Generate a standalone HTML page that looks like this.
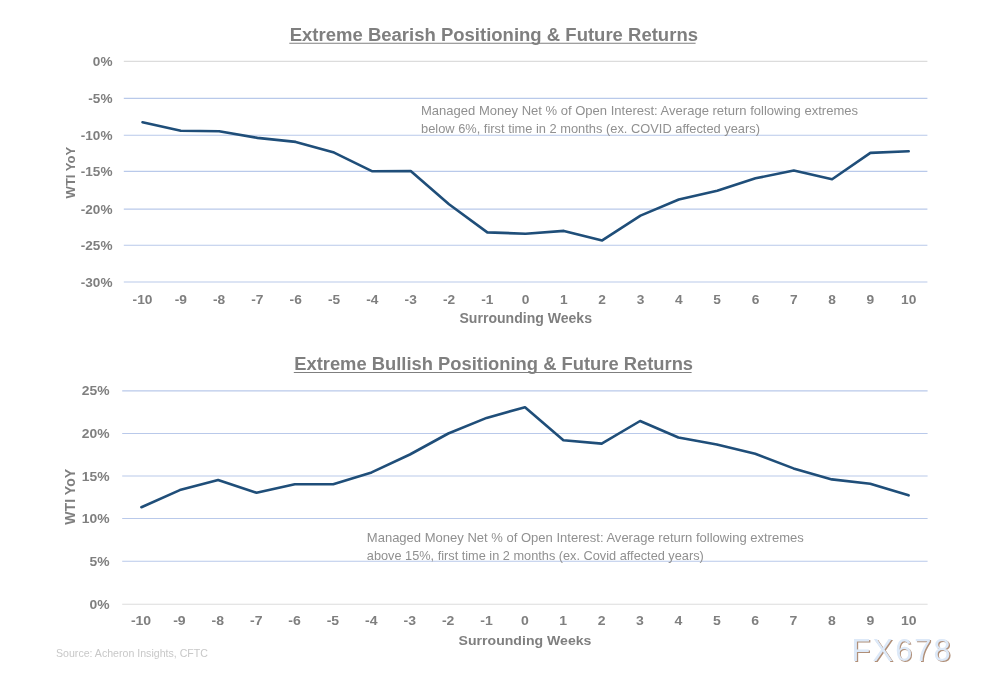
<!DOCTYPE html>
<html><head><meta charset="utf-8"><title>Extreme Positioning &amp; Future Returns</title>
<style>
html,body{margin:0;padding:0;background:#fff;}
svg{display:block;font-family:"Liberation Sans",Arial,sans-serif;}
.b{font-weight:bold;fill:#7f7f7f;}
.an{font-size:13px;fill:#909090;}
</style></head><body>
<svg width="981" height="686" viewBox="0 0 981 686">
<defs><filter id="sh" x="-10%" y="-10%" width="120%" height="130%"><feGaussianBlur stdDeviation="0.7"/></filter></defs>
<rect width="981" height="686" fill="#fff"/>
<line x1="123.8" x2="927.4" y1="61.4" y2="61.4" stroke="#dcdcdc" stroke-width="1.1"/>
<text class="b" transform="translate(112.5,65.9) scale(1.07,1)" font-size="12.7" text-anchor="end">0%</text>
<line x1="123.8" x2="927.4" y1="98.4" y2="98.4" stroke="#b9c9ea" stroke-width="1.1"/>
<text class="b" transform="translate(112.5,102.9) scale(1.07,1)" font-size="12.7" text-anchor="end">-5%</text>
<line x1="123.8" x2="927.4" y1="135.2" y2="135.2" stroke="#b9c9ea" stroke-width="1.1"/>
<text class="b" transform="translate(112.5,139.7) scale(1.07,1)" font-size="12.7" text-anchor="end">-10%</text>
<line x1="123.8" x2="927.4" y1="171.4" y2="171.4" stroke="#b9c9ea" stroke-width="1.1"/>
<text class="b" transform="translate(112.5,175.9) scale(1.07,1)" font-size="12.7" text-anchor="end">-15%</text>
<line x1="123.8" x2="927.4" y1="209.1" y2="209.1" stroke="#b9c9ea" stroke-width="1.1"/>
<text class="b" transform="translate(112.5,213.6) scale(1.07,1)" font-size="12.7" text-anchor="end">-20%</text>
<line x1="123.8" x2="927.4" y1="245.3" y2="245.3" stroke="#b9c9ea" stroke-width="1.1"/>
<text class="b" transform="translate(112.5,249.8) scale(1.07,1)" font-size="12.7" text-anchor="end">-25%</text>
<line x1="123.8" x2="927.4" y1="282.0" y2="282.0" stroke="#b9c9ea" stroke-width="1.1"/>
<text class="b" transform="translate(112.5,286.5) scale(1.07,1)" font-size="12.7" text-anchor="end">-30%</text>
<text class="b" transform="translate(142.5,303.7) scale(1.1,1)" font-size="12.5" text-anchor="middle">-10</text>
<text class="b" transform="translate(180.8,303.7) scale(1.1,1)" font-size="12.5" text-anchor="middle">-9</text>
<text class="b" transform="translate(219.1,303.7) scale(1.1,1)" font-size="12.5" text-anchor="middle">-8</text>
<text class="b" transform="translate(257.4,303.7) scale(1.1,1)" font-size="12.5" text-anchor="middle">-7</text>
<text class="b" transform="translate(295.7,303.7) scale(1.1,1)" font-size="12.5" text-anchor="middle">-6</text>
<text class="b" transform="translate(334.1,303.7) scale(1.1,1)" font-size="12.5" text-anchor="middle">-5</text>
<text class="b" transform="translate(372.4,303.7) scale(1.1,1)" font-size="12.5" text-anchor="middle">-4</text>
<text class="b" transform="translate(410.7,303.7) scale(1.1,1)" font-size="12.5" text-anchor="middle">-3</text>
<text class="b" transform="translate(449.0,303.7) scale(1.1,1)" font-size="12.5" text-anchor="middle">-2</text>
<text class="b" transform="translate(487.3,303.7) scale(1.1,1)" font-size="12.5" text-anchor="middle">-1</text>
<text class="b" transform="translate(525.6,303.7) scale(1.1,1)" font-size="12.5" text-anchor="middle">0</text>
<text class="b" transform="translate(563.9,303.7) scale(1.1,1)" font-size="12.5" text-anchor="middle">1</text>
<text class="b" transform="translate(602.2,303.7) scale(1.1,1)" font-size="12.5" text-anchor="middle">2</text>
<text class="b" transform="translate(640.5,303.7) scale(1.1,1)" font-size="12.5" text-anchor="middle">3</text>
<text class="b" transform="translate(678.8,303.7) scale(1.1,1)" font-size="12.5" text-anchor="middle">4</text>
<text class="b" transform="translate(717.2,303.7) scale(1.1,1)" font-size="12.5" text-anchor="middle">5</text>
<text class="b" transform="translate(755.5,303.7) scale(1.1,1)" font-size="12.5" text-anchor="middle">6</text>
<text class="b" transform="translate(793.8,303.7) scale(1.1,1)" font-size="12.5" text-anchor="middle">7</text>
<text class="b" transform="translate(832.1,303.7) scale(1.1,1)" font-size="12.5" text-anchor="middle">8</text>
<text class="b" transform="translate(870.4,303.7) scale(1.1,1)" font-size="12.5" text-anchor="middle">9</text>
<text class="b" transform="translate(908.7,303.7) scale(1.1,1)" font-size="12.5" text-anchor="middle">10</text>
<polyline fill="none" stroke="#1f4e79" stroke-width="2.6" stroke-linecap="round" stroke-linejoin="round" points="142.5,122.2 180.8,130.7 219.1,131.2 257.4,137.9 295.7,141.9 334.1,152.6 372.4,171.3 410.7,171.0 449.0,204.3 487.3,232.4 525.6,233.7 563.9,230.9 602.2,240.4 640.5,215.6 678.8,199.5 717.2,190.8 755.5,178.3 793.8,170.6 832.1,179.2 870.4,152.9 908.7,151.3"/>
<text class="b" font-size="18.8" x="289.7" y="40.8" textLength="408.3" lengthAdjust="spacingAndGlyphs">Extreme Bearish Positioning &amp; Future Returns</text>
<line x1="289.3" x2="695.6" y1="43.2" y2="43.2" stroke="#7f7f7f" stroke-width="1.1"/>
<text class="b" font-size="14" x="459.5" y="322.6" textLength="132.5" lengthAdjust="spacingAndGlyphs">Surrounding Weeks</text>
<text class="b" font-size="13.3" transform="translate(74.5,198.4) rotate(-90)" textLength="51.6" lengthAdjust="spacingAndGlyphs">WTI YoY</text>
<text class="an" x="421" y="114.6" textLength="437" lengthAdjust="spacingAndGlyphs">Managed Money Net % of Open Interest: Average return following extremes</text>
<text class="an" x="421" y="133.0" textLength="339" lengthAdjust="spacingAndGlyphs">below 6%, first time in 2 months (ex. COVID affected years)</text>
<line x1="122.2" x2="927.6" y1="390.9" y2="390.9" stroke="#b9c9ea" stroke-width="1.1"/>
<text class="b" transform="translate(109.6,395.4) scale(1.06,1)" font-size="13.1" text-anchor="end">25%</text>
<line x1="122.2" x2="927.6" y1="433.5" y2="433.5" stroke="#b9c9ea" stroke-width="1.1"/>
<text class="b" transform="translate(109.6,438.0) scale(1.06,1)" font-size="13.1" text-anchor="end">20%</text>
<line x1="122.2" x2="927.6" y1="476.0" y2="476.0" stroke="#b9c9ea" stroke-width="1.1"/>
<text class="b" transform="translate(109.6,480.5) scale(1.06,1)" font-size="13.1" text-anchor="end">15%</text>
<line x1="122.2" x2="927.6" y1="518.5" y2="518.5" stroke="#b9c9ea" stroke-width="1.1"/>
<text class="b" transform="translate(109.6,523.0) scale(1.06,1)" font-size="13.1" text-anchor="end">10%</text>
<line x1="122.2" x2="927.6" y1="561.2" y2="561.2" stroke="#b9c9ea" stroke-width="1.1"/>
<text class="b" transform="translate(109.6,565.7) scale(1.06,1)" font-size="13.1" text-anchor="end">5%</text>
<line x1="122.2" x2="927.6" y1="604.3" y2="604.3" stroke="#dcdcdc" stroke-width="1.1"/>
<text class="b" transform="translate(109.6,608.8) scale(1.06,1)" font-size="13.1" text-anchor="end">0%</text>
<text class="b" transform="translate(141.0,624.8) scale(1.15,1)" font-size="12.2" text-anchor="middle">-10</text>
<text class="b" transform="translate(179.4,624.8) scale(1.15,1)" font-size="12.2" text-anchor="middle">-9</text>
<text class="b" transform="translate(217.8,624.8) scale(1.15,1)" font-size="12.2" text-anchor="middle">-8</text>
<text class="b" transform="translate(256.2,624.8) scale(1.15,1)" font-size="12.2" text-anchor="middle">-7</text>
<text class="b" transform="translate(294.5,624.8) scale(1.15,1)" font-size="12.2" text-anchor="middle">-6</text>
<text class="b" transform="translate(332.9,624.8) scale(1.15,1)" font-size="12.2" text-anchor="middle">-5</text>
<text class="b" transform="translate(371.3,624.8) scale(1.15,1)" font-size="12.2" text-anchor="middle">-4</text>
<text class="b" transform="translate(409.7,624.8) scale(1.15,1)" font-size="12.2" text-anchor="middle">-3</text>
<text class="b" transform="translate(448.1,624.8) scale(1.15,1)" font-size="12.2" text-anchor="middle">-2</text>
<text class="b" transform="translate(486.5,624.8) scale(1.15,1)" font-size="12.2" text-anchor="middle">-1</text>
<text class="b" transform="translate(524.8,624.8) scale(1.15,1)" font-size="12.2" text-anchor="middle">0</text>
<text class="b" transform="translate(563.2,624.8) scale(1.15,1)" font-size="12.2" text-anchor="middle">1</text>
<text class="b" transform="translate(601.6,624.8) scale(1.15,1)" font-size="12.2" text-anchor="middle">2</text>
<text class="b" transform="translate(640.0,624.8) scale(1.15,1)" font-size="12.2" text-anchor="middle">3</text>
<text class="b" transform="translate(678.4,624.8) scale(1.15,1)" font-size="12.2" text-anchor="middle">4</text>
<text class="b" transform="translate(716.8,624.8) scale(1.15,1)" font-size="12.2" text-anchor="middle">5</text>
<text class="b" transform="translate(755.2,624.8) scale(1.15,1)" font-size="12.2" text-anchor="middle">6</text>
<text class="b" transform="translate(793.5,624.8) scale(1.15,1)" font-size="12.2" text-anchor="middle">7</text>
<text class="b" transform="translate(831.9,624.8) scale(1.15,1)" font-size="12.2" text-anchor="middle">8</text>
<text class="b" transform="translate(870.3,624.8) scale(1.15,1)" font-size="12.2" text-anchor="middle">9</text>
<text class="b" transform="translate(908.7,624.8) scale(1.15,1)" font-size="12.2" text-anchor="middle">10</text>
<polyline fill="none" stroke="#1f4e79" stroke-width="2.6" stroke-linecap="round" stroke-linejoin="round" points="141.4,507.2 179.8,490.1 218.1,480 256.5,492.8 294.8,484.3 333.2,484.3 371.6,472.4 409.9,454.5 448.3,433.5 486.6,417.9 525.0,407.2 563.4,440.2 601.7,443.6 640.1,421 678.4,437.5 716.8,444.5 755.2,453.7 793.5,468.4 831.9,479.4 870.2,483.7 908.6,495.3"/>
<text class="b" font-size="18.3" x="294.2" y="370" textLength="398.9" lengthAdjust="spacingAndGlyphs">Extreme Bullish Positioning &amp; Future Returns</text>
<line x1="293.8" x2="691.6" y1="372.5" y2="372.5" stroke="#7f7f7f" stroke-width="1.1"/>
<text class="b" font-size="12.2" x="458.6" y="645.1" textLength="132.8" lengthAdjust="spacingAndGlyphs">Surrounding Weeks</text>
<text class="b" font-size="13.8" transform="translate(74.5,524.8) rotate(-90)" textLength="56" lengthAdjust="spacingAndGlyphs">WTI YoY</text>
<text class="an" x="366.8" y="542.4" textLength="437" lengthAdjust="spacingAndGlyphs">Managed Money Net % of Open Interest: Average return following extremes</text>
<text class="an" x="366.8" y="560" textLength="337" lengthAdjust="spacingAndGlyphs">above 15%, first time in 2 months (ex. Covid affected years)</text>
<text x="56" y="656.8" font-size="10.6" fill="#c8c8c8">Source: Acheron Insights, CFTC</text>
<text x="852.8" y="662.2" font-size="30.8" letter-spacing="2.1" fill="#b08f78" filter="url(#sh)">FX678</text>
<text x="851.6" y="661.2" font-size="30.8" letter-spacing="2.1" fill="#dde9f8">FX678</text>
</svg></body></html>
